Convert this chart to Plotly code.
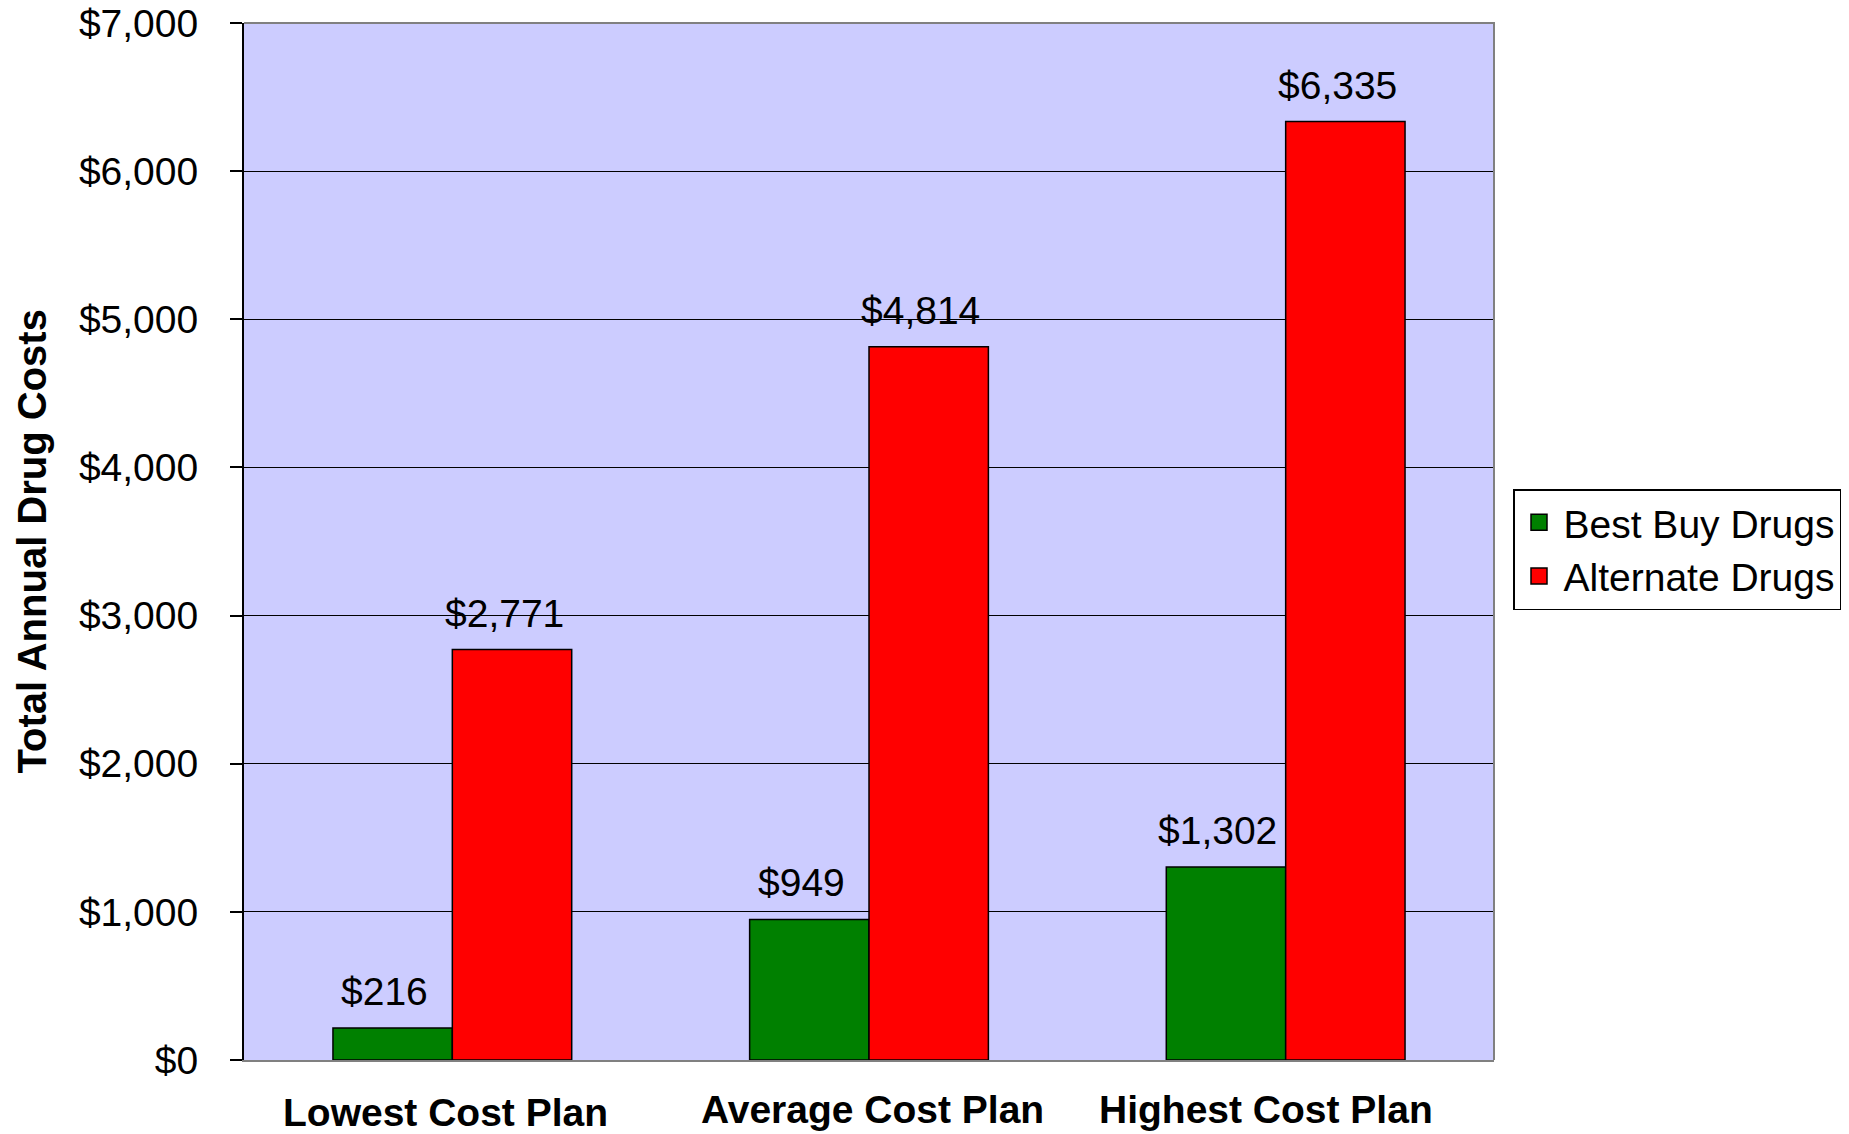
import plotly.graph_objects as go

categories = ["Lowest Cost Plan", "Average Cost Plan", "Highest Cost Plan"]
best_buy = [216, 949, 1302]
alternate = [2771, 4814, 6335]
series_names = ["Best Buy Drugs", "Alternate Drugs"]
y_ticks = [0, 1000, 2000, 3000, 4000, 5000, 6000, 7000]

FONT = "Liberation Sans, Arial, sans-serif"
FS = 39
W, H = 1849, 1134
ML, MT = 244, 23
MR = W - 1494
MB = H - 1060
BARGAP = 0.427
GREEN, RED = "#008000", "#FF0000"

fig = go.Figure()
for name, vals, col in [(series_names[0], best_buy, GREEN), (series_names[1], alternate, RED)]:
    fig.add_trace(go.Bar(x=categories, y=vals, name=name,
                         marker=dict(color=col, line=dict(color="black", width=1.5)),
                         showlegend=False))
# legend entries with larger square symbols
for i, (name, col) in enumerate([(series_names[0], GREEN), (series_names[1], RED)]):
    fig.add_trace(go.Scatter(x=[None], y=[None], mode="markers", name=name,
                             marker=dict(symbol="square", size=16, color=col,
                                         line=dict(color="black", width=1.5))))

plot_w = W - ML - MR
plot_h = H - MT - MB
cat_px = plot_w / len(categories)
bar_off = (1 - BARGAP) / 4 * cat_px

annotations = []
for vals, sign in [(best_buy, -1), (alternate, 1)]:
    for c, v in zip(categories, vals):
        annotations.append(dict(x=c, y=v, xref="x", yref="y", text=f"${v:,}", showarrow=False,
                                xanchor="center", yanchor="bottom", xshift=sign * bar_off - 8, yshift=13,
                                font=dict(family=FONT, size=FS, color="black")))
cat_shift = {"Lowest Cost Plan": (-7, -29), "Average Cost Plan": (3, -26), "Highest Cost Plan": (-20, -26)}
for c in categories:
    dx, dy = cat_shift[c]
    annotations.append(dict(x=c, y=0, xref="x", yref="paper", text=f"<b>{c}</b>", showarrow=False,
                            xanchor="center", yanchor="top", xshift=dx, yshift=dy,
                            font=dict(family=FONT, size=FS, color="black")))
annotations.append(dict(x=(31 - ML) / plot_w, y=0.5, xref="paper", yref="paper",
                        text="<b>Total Annual Drug Costs</b>",
                        textangle=-90, showarrow=False, xanchor="center", yanchor="middle",
                        font=dict(family=FONT, size=40, color="black")))

fig.update_layout(
    width=W, height=H,
    margin=dict(l=ML, r=MR, t=MT, b=MB, autoexpand=False),
    paper_bgcolor="white", plot_bgcolor="#CCCCFF",
    barmode="group", bargap=BARGAP, bargroupgap=0,
    font=dict(family=FONT, size=FS, color="black"),
    showlegend=True,
    legend=dict(x=(1513 - ML) / plot_w, y=(1060 - 489) / plot_h, xanchor="left", yanchor="top",
                bgcolor="white", bordercolor="black", borderwidth=1.5,
                font=dict(family=FONT, size=FS, color="black"), tracegroupgap=0,
                itemsizing="trace", itemwidth=39),
    annotations=annotations,
    shapes=[dict(type="path", xref="paper", yref="paper", path="M 0,1 L 1,1 L 1,0",
                 line=dict(color="#808080", width=2), layer="above")],
)
fig.update_xaxes(showticklabels=False, ticks="", showgrid=False, showline=True,
                 linecolor="#808080", linewidth=2, zeroline=False)
fig.update_yaxes(range=[0, 7000], tickvals=y_ticks, ticktext=[f"${t:,}" for t in y_ticks],
                 ticks="outside", ticklen=12, tickwidth=1.5, tickcolor="black",
                 showline=True, linecolor="black", linewidth=2,
                 showgrid=True, gridcolor="black", gridwidth=1.3, zeroline=False,
                 ticklabelstandoff=24, ticklabeloverflow="allow",
                 tickfont=dict(family=FONT, size=FS, color="black"))

fig.write_html("out.html", config={"displayModeBar": False},
               post_script="document.body.style.margin='0';")
